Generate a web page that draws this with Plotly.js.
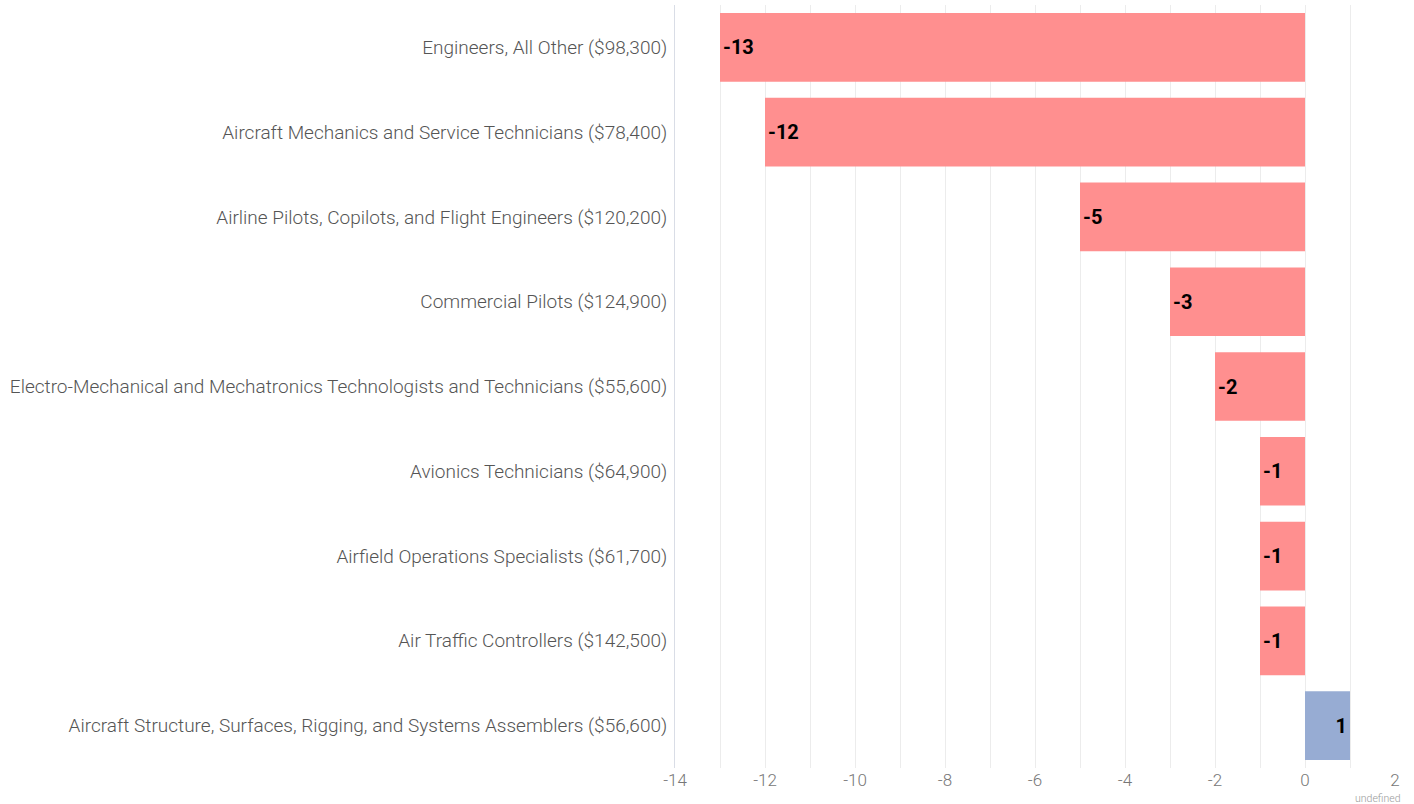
<!DOCTYPE html>
<html>
<head>
<meta charset="utf-8">
<script src="https://cdn.plot.ly/plotly-3.0.1.min.js"></script>
<style>html,body{margin:0;padding:0;background:#fff;}#chart{width:1414px;height:804px;}</style>
</head>
<body>
<div id="chart"></div>
<script>
const categories = [
  "Engineers, All Other ($98,300)",
  "Aircraft Mechanics and Service Technicians ($78,400)",
  "Airline Pilots, Copilots, and Flight Engineers ($120,200)",
  "Commercial Pilots ($124,900)",
  "Electro-Mechanical and Mechatronics Technologists and Technicians ($55,600)",
  "Avionics Technicians ($64,900)",
  "Airfield Operations Specialists ($61,700)",
  "Air Traffic Controllers ($142,500)",
  "Aircraft Structure, Surfaces, Rigging, and Systems Assemblers ($56,600)"
];
const values = [-13, -12, -5, -3, -2, -1, -1, -1, 1];
const xTicks = [-14, -12, -10, -8, -6, -4, -2, 0, 2];

const colors = values.map(v => v < 0 ? "#FF8F8F" : "#97ACD3");

const trace = {
  type: "bar",
  orientation: "h",
  x: values,
  y: categories,
  marker: {color: colors},
  text: values.map(v => String(v)),
  textposition: "inside",
  insidetextanchor: "end",
  textfont: {family: "Roboto", size: 20, color: "#000", weight: "bold"},
  constraintext: "none",
  hoverinfo: "none"
};

const layout = {
  width: 1414,
  height: 804,
  margin: {l: 675, r: 19, t: 5, b: 36},
  paper_bgcolor: "#fff",
  plot_bgcolor: "#fff",
  bargap: 0.19,
  showlegend: false,
  font: {family: "Roboto", color: "#555"},
  xaxis: {
    range: [-14, 2],
    tickvals: xTicks,
    ticktext: xTicks.map(String),
    tickfont: {family: "Roboto", size: 17, color: "#777", weight: 300},
    showgrid: true,
    gridcolor: "#ececec",
    minor: {dtick: 1, showgrid: true, gridcolor: "#ececec"},
    zeroline: false,
    showline: false,
    ticks: "",
    fixedrange: true
  },
  yaxis: {
    categoryorder: "array",
    categoryarray: categories,
    autorange: "reversed",
    tickfont: {family: "Roboto", size: 19, color: "#555", weight: 300},
    showline: true,
    linecolor: "#d9dde6",
    linewidth: 1,
    showgrid: false,
    ticks: "",
    ticklabelstandoff: 3,
    fixedrange: true
  },
  annotations: [{
    text: "undefined",
    xref: "paper", yref: "paper",
    x: 1.0, y: 0,
    xanchor: "right", yanchor: "top",
    yshift: -22, xshift: 8,
    showarrow: false,
    font: {family: "Roboto", size: 10.5, color: "#999", weight: 300}
  }]
};

Plotly.newPlot("chart", [trace], layout, {displayModeBar: false, staticPlot: true});
</script>
</body>
</html>
